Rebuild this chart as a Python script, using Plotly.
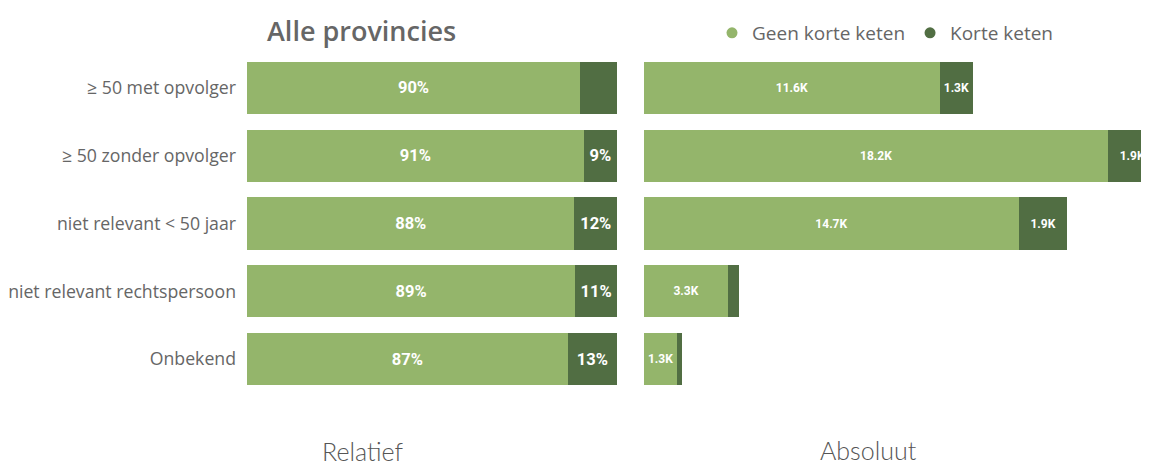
import plotly.graph_objects as go

categories = ["≥ 50 met opvolger", "≥ 50 zonder opvolger", "niet relevant < 50 jaar",
              "niet relevant rechtspersoon", "Onbekend"]
series_names = ["Geen korte keten", "Korte keten"]

rel_geen = [0.90, 0.91, 0.885, 0.887, 0.867]
rel_korte = [0.10, 0.09, 0.115, 0.113, 0.133]
rel_geen_labels = ["90%", "91%", "88%", "89%", "87%"]
rel_korte_labels = ["", "9%", "12%", "11%", "13%"]

abs_geen = [11600, 18200, 14700, 3300, 1300]
abs_korte = [1300, 1900, 1900, 430, 200]
abs_geen_labels = ["11.6K", "18.2K", "14.7K", "3.3K", "1.3K"]
abs_korte_labels = ["1.3K", "1.9K", "1.9K", "", ""]

c_light = "#94B56B"
c_dark = "#516E43"

# page body has an 8px margin; figure sized so it fills the 1149x468 window
OX, OY = 8, 8
W, H = 1149 - OX, 468 - OY


def px(x):
    return (x - OX) / W


def py(y):
    return 1 - (y - OY) / H


lab_font = dict(family="Roboto, sans-serif", color="white", size=16.5, weight="bold")
abs_font = dict(family="Roboto, sans-serif", color="white", size=12, weight="bold")

fig = go.Figure()
common = dict(orientation="h", textposition="inside", insidetextanchor="middle",
              constraintext="none", textangle=0, showlegend=False, width=0.77,
              marker_line=dict(width=0))

fig.add_bar(y=categories, x=rel_geen, text=rel_geen_labels, marker_color=c_light,
            textfont=lab_font, xaxis="x", yaxis="y", name=series_names[0], **common)
fig.add_bar(y=categories, x=rel_korte, text=rel_korte_labels, marker_color=c_dark,
            textfont=lab_font, xaxis="x", yaxis="y", name=series_names[1], **common)
fig.add_bar(y=categories, x=abs_geen, text=abs_geen_labels, marker_color=c_light,
            textfont=abs_font, xaxis="x2", yaxis="y2", name=series_names[0], **common)
fig.add_bar(y=categories, x=abs_korte, text=abs_korte_labels, marker_color=c_dark,
            textfont=abs_font, xaxis="x2", yaxis="y2", name=series_names[1], **common)

# legend entries with circle markers
for nm, col in zip(series_names, [c_light, c_dark]):
    fig.add_scatter(x=[None], y=[None], mode="markers", name=nm,
                    marker=dict(symbol="circle", size=11, color=col),
                    xaxis="x2", yaxis="y2", showlegend=True)

ydom = [py(393), py(54)]
fig.update_layout(
    width=W, height=H, barmode="stack",
    margin=dict(l=0, r=0, t=0, b=0),
    plot_bgcolor="white", paper_bgcolor="white",
    font=dict(family="Open Sans, Noto Sans, sans-serif", color="#666666"),
    title=dict(text="Alle provincies", x=px(267), xanchor="left", y=py(32), yanchor="middle",
               yref="container", xref="paper",
               font=dict(size=27, color="#666666", family="Open Sans, Noto Sans, sans-serif", weight=600)),
    xaxis=dict(domain=[px(247), px(617)], range=[0, 1], visible=False),
    xaxis2=dict(domain=[px(644), 1.0], range=[0, (1149 - 644) / 25.5 * 1000], visible=False),
    yaxis=dict(domain=ydom, autorange="reversed", anchor="x", showgrid=False, zeroline=False,
               showline=False, ticks="", ticklabelstandoff=10,
               tickfont=dict(size=17.7, color="#666666")),
    yaxis2=dict(domain=ydom, autorange="reversed", anchor="x2", showticklabels=False,
                showgrid=False, zeroline=False, showline=False, matches="y"),
    legend=dict(orientation="h", x=px(712), xanchor="left", y=py(33), yanchor="middle",
                font=dict(size=19, color="#666666"), itemwidth=30, traceorder="normal",
                bgcolor="rgba(0,0,0,0)"),
    annotations=[
        dict(text="Relatief", x=px(362), y=py(451), xref="paper", yref="paper",
             xanchor="center", yanchor="middle",
             showarrow=False, font=dict(size=25, color="#555555", family="Lato, Open Sans, sans-serif", weight=300)),
        dict(text="Absoluut", x=px(868), y=py(450), xref="paper", yref="paper",
             xanchor="center", yanchor="middle",
             showarrow=False, font=dict(size=25, color="#555555", family="Lato, Open Sans, sans-serif", weight=300)),
    ],
)

fig.write_html("out.html")
